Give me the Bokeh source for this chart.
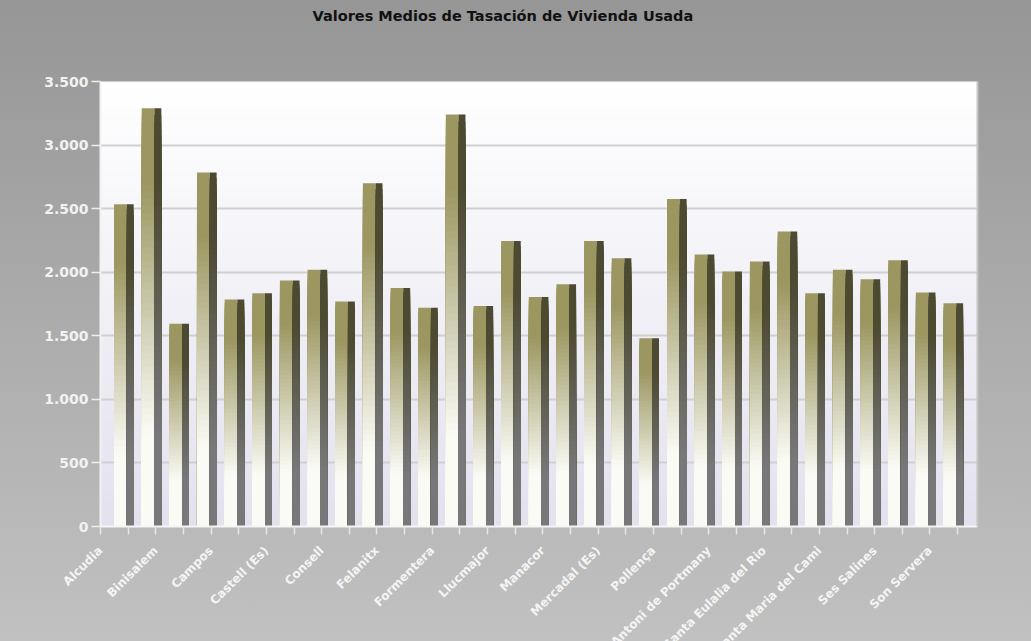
import math
from bokeh.plotting import figure
from bokeh.models import (Range1d, ColumnDataSource, BoxAnnotation, FixedTicker,
                          LinearAxis, Title, Grid)
from bokeh.transform import dodge
from bokeh.embed import file_html
from bokeh.resources import INLINE

# ---------------- data ----------------
titulo = "Valores Medios de Tasación de Vivienda Usada"
municipios = ["Alcudia", "Andratx", "Binisalem", "Calvià", "Campos", "Capdepera",
              "Castell (Es)", "Ciutadella", "Consell", "Eivissa", "Felanitx",
              "Ferreries", "Formentera", "Inca", "Llucmajor", "Mahón", "Manacor",
              "Marratxí", "Mercadal (Es)", "Palma", "Pollença", "Porreres",
              "Sant Antoni de Portmany", "Sant Josep de sa Talaia",
              "Santa Eulalia del Rio", "Santa Margalida", "Santa Maria del Cami",
              "Santanyí", "Ses Salines", "Sóller", "Son Servera"]
valores = [2535, 3290, 1595, 2785, 1785, 1835, 1935, 2020, 1770, 2700, 1875,
           1720, 3240, 1735, 2245, 1805, 1905, 2245, 2110, 1480, 2575, 2140,
           2005, 2085, 2320, 1835, 2020, 1945, 2095, 1840, 1755]
y_ticks = [0, 500, 1000, 1500, 2000, 2500, 3000, 3500]
y_max = 3500

# ---------------- layout ----------------
W, H = 1031, 641
ORIGIN_X, TOP, RIGHT = 100, 81, 54   # canvas x of the y axis, top of plot, right border
FRAME_TOP = 60                       # frame starts a bit above the plot (room for "3.500")
PLOT_PX = 445                        # pixels from 0 to y_max
px_unit = y_max / PLOT_PX
below_px = H - TOP - PLOT_PX         # frame continues below 0 (label area)
y_start = -below_px * px_unit
y_end = y_max + (TOP - FRAME_TOP) * px_unit
n = len(municipios)
x_end = n + 0.72                     # category slots plus the 3D depth margin
x_start = -ORIGIN_X * x_end / (W - RIGHT - ORIGIN_X)  # room for the axis labels
SHIFT = 0.86                         # bars sit this far right of their boundary tick

# ---------------- helpers ----------------
def hex2rgb(h):
    h = h.lstrip("#")
    return [int(h[i:i + 2], 16) for i in (0, 2, 4)]

def mix(c1, c2, f):
    a, b = hex2rgb(c1), hex2rgb(c2)
    return "#%02x%02x%02x" % tuple(round(a[i] + (b[i] - a[i]) * f) for i in range(3))

def ramp(t):
    return min(1.0, max(0.0, (t - 0.22) / 0.6))

FRONT_LO, FRONT_HI = "#fbfbf6", "#9c9761"
SIDE_LO, SIDE_HI = "#78787a", "#4c4a31"
N = 60

# gradient bars: nested slices, tallest first, each smaller one drawn on top
xs, tops, fcol, scol = [], [], [], []
for k in range(N - 1, -1, -1):
    t = (k + 0.5) / N
    for i, v in enumerate(valores):
        xs.append(i + SHIFT)
        tops.append(v * (k + 1) / N)
        fcol.append(mix(FRONT_LO, FRONT_HI, ramp(t)))
        scol.append(mix(SIDE_LO, SIDE_HI, ramp(t)))
src = ColumnDataSource(dict(x=xs, t=tops, fc=fcol, sc=scol))

p = figure(x_range=Range1d(x_start, x_end), y_range=Range1d(y_start, y_end),
           width=W, height=H, output_backend="svg", toolbar_location=None,
           min_border_left=0, min_border_right=RIGHT, min_border_top=0,
           min_border_bottom=0, border_fill_color=None,
           background_fill_color=None, outline_line_color=None,
           styles={"background": "linear-gradient(to bottom, #969696, #c1c1c1)"})

# plot-area background gradient (white -> lavender), nested from the top down
NB = 50
for k in range(NB):
    f = (k + 0.5) / NB
    p.add_layout(BoxAnnotation(left=0, right=x_end, bottom=0,
                               top=y_max * (1 - k / NB), fill_alpha=1.0,
                               fill_color=mix("#ffffff", "#e3e1ee", f),
                               line_color=None, level="image"))

# grid lines limited to the plot area
p.xgrid.visible = False
if "cross_bounds" in Grid.properties():
    p.ygrid.ticker = FixedTicker(ticks=y_ticks[1:-1])
    p.ygrid.cross_bounds = (0, x_end)
    p.ygrid.grid_line_color = "#d0d0d0"
    p.ygrid.grid_line_width = 2
else:
    p.ygrid.visible = False
    for v in y_ticks[1:-1]:
        p.add_layout(BoxAnnotation(left=0, right=x_end, bottom=v - px_unit,
                                   top=v + px_unit, fill_color="#d0d0d0",
                                   fill_alpha=1.0, line_color=None, level="underlay"))

# bars: front face and darker side face
p.vbar(x=dodge("x", -0.14), width=0.46, bottom=0, top="t",
       fill_color="fc", line_color=None, source=src)
p.vbar(x=dodge("x", 0.215), width=0.25, bottom=0, top="t",
       fill_color="sc", line_color=None, source=src)

# title (outermost) with a spacer between it and the frame
if "standoff" in Title.properties():
    spacer = Title(text=" ", text_font_size="2px", standoff=28)
else:
    spacer = Title(text=" ", text_font_size="26px")
p.add_layout(spacer, "above")
p.title.text = titulo
p.title.align = "left"
p.title.offset = 312
p.title.text_font = "DejaVu Sans"
p.title.text_font_size = "14.5px"
p.title.text_font_style = "bold"
p.title.text_color = "#111111"

# y axis at x = 0
ya = p.yaxis[0]
ya.fixed_location = 0
ya.ticker = FixedTicker(ticks=y_ticks)
ya.bounds = (0, y_max)
ya.major_label_overrides = {v: f"{v:,}".replace(",", ".") for v in y_ticks}
ya.major_label_text_font = "DejaVu Sans"
ya.major_label_text_font_size = "14px"
ya.major_label_text_font_style = "bold"
ya.major_label_text_color = "#f2f2f2"
ya.axis_line_color = "#f2f2f2"
ya.axis_line_width = 2
ya.major_tick_line_color = "#eeeeee"
ya.major_tick_line_width = 1.5
ya.major_tick_out = 9
ya.major_tick_in = 0
ya.minor_tick_line_color = None
ya.major_label_standoff = 3

# x axis at y = 0: a tick at every category boundary, a label every other one
labeled = list(range(0, n, 2))
unlabeled = [k for k in range(n + 1) if k % 2 == 1]
xa = p.xaxis[0]
xa.fixed_location = 0
xa.bounds = (0, x_end)
xa.ticker = FixedTicker(ticks=labeled, minor_ticks=unlabeled)
xa.major_label_overrides = {k: municipios[k] for k in labeled}
xa.major_label_orientation = math.pi / 4
xa.major_label_standoff = 14
xa.major_label_text_font = "DejaVu Sans"
xa.major_label_text_font_size = "12px"
xa.major_label_text_font_style = "bold"
xa.major_label_text_color = "#f4f4f4"
xa.axis_line_color = "#f5f5f5"
xa.axis_line_width = 2
xa.major_tick_line_color = "#e6e6e6"
xa.major_tick_line_width = 1.5
xa.major_tick_out = 8
xa.major_tick_in = 0
xa.minor_tick_line_color = "#e6e6e6"
xa.minor_tick_line_width = 1.5
xa.minor_tick_out = 8
xa.minor_tick_in = 0

# right wall line
ra = LinearAxis(ticker=FixedTicker(ticks=[]), axis_line_color="#c4c4c4",
                axis_line_width=2, major_tick_line_color=None,
                minor_tick_line_color=None, bounds=(0, y_max))
p.add_layout(ra, "right")

open("out.html", "w").write(file_html(p, INLINE))
